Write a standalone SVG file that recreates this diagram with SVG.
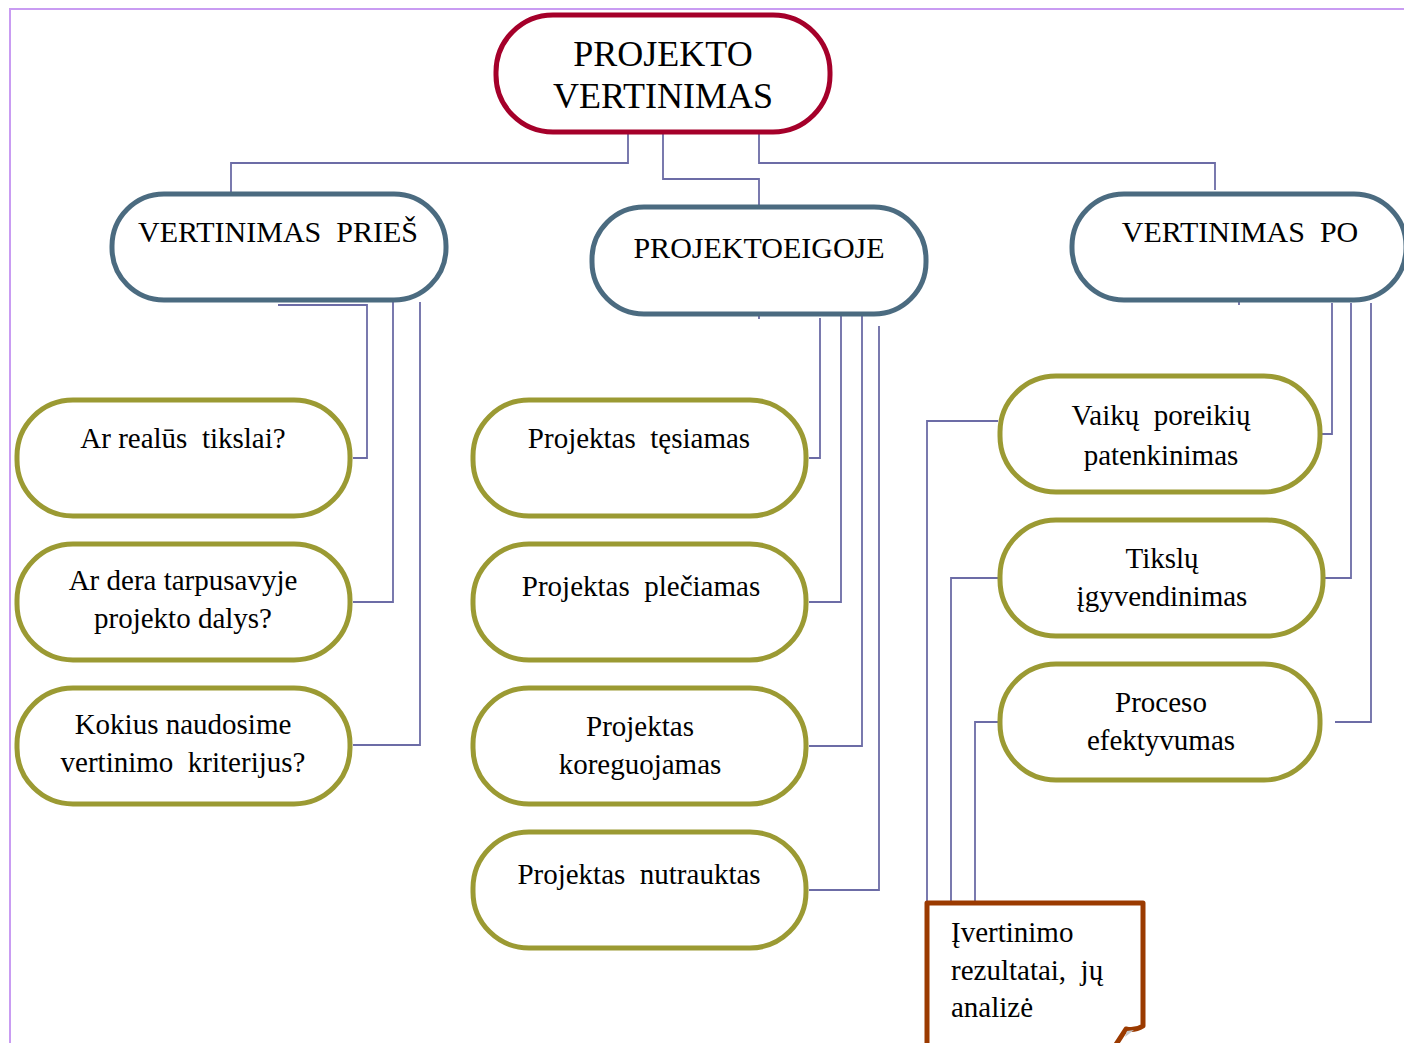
<svg xmlns="http://www.w3.org/2000/svg" width="1404" height="1043" viewBox="0 0 1404 1043">
<style>
.bg{fill:#ffffff}
.frame{fill:none;stroke:#c99cf2;stroke-width:2}
.c{fill:none;stroke:#6c6ca6;stroke-width:1.8}
.top{fill:#fff;stroke:#a5002a;stroke-width:5}
.mid{fill:#fff;stroke:#4b6b80;stroke-width:5}
.leaf{fill:#fff;stroke:#9b9a33;stroke-width:5}
.note{fill:#fff;stroke:#9b3a00;stroke-width:5;stroke-linejoin:round}
text{font-family:"Liberation Serif","Times New Roman",serif;fill:#000;text-anchor:middle}
.t1{font-size:36px}
.t2{font-size:30px}
.t3{font-size:29px}
.tl{text-anchor:start}
</style>
<rect class="bg" x="0" y="0" width="1404" height="1043"/>
<path class="frame" d="M10,1043 L10,9 L1404,9"/>

<g id="connectors">
  <path class="c" d="M628,134 L628,163 L231,163 L231,192"/>
  <path class="c" d="M663,134 L663,179 L759,179 L759,205"/>
  <path class="c" d="M759,134 L759,163 L1215,163 L1215,190"/>
  <path class="c" d="M278,305 L367,305 L367,458 L353,458"/>
  <path class="c" d="M393,302 L393,602 L353,602"/>
  <path class="c" d="M420,302 L420,745 L353,745"/>
  <path class="c" d="M820,318 L820,458 L809,458"/>
  <path class="c" d="M841,302 L841,602 L809,602"/>
  <path class="c" d="M862,302 L862,746 L809,746"/>
  <path class="c" d="M879,326 L879,890 L809,890"/>
  <path class="c" d="M759,316 L759,319"/>
  <path class="c" d="M1239,302 L1239,305"/>
  <path class="c" d="M1332,303 L1332,434 L1322,434"/>
  <path class="c" d="M1351,303 L1351,578 L1325,578"/>
  <path class="c" d="M1371,303 L1371,722 L1335,722"/>
  <path class="c" d="M998,421 L927,421 L927,902"/>
  <path class="c" d="M998,578 L951,578 L951,902"/>
  <path class="c" d="M998,722 L975,722 L975,902"/>
</g>

<g id="n-root">
  <rect class="top" x="496" y="15" width="334" height="117" rx="57"/>
  <text class="t1" x="663" y="66">PROJEKTO</text>
  <text class="t1" x="663" y="108">VERTINIMAS</text>
</g>

<g id="n-pries">
  <rect class="mid" x="112" y="194" width="334" height="106" rx="52"/>
  <text class="t2" x="278" y="242" xml:space="preserve">VERTINIMAS  PRIEŠ</text>
</g>
<g id="n-eigoje">
  <rect class="mid" x="592" y="207" width="334" height="107" rx="52"/>
  <text class="t2" x="759" y="258">PROJEKTOEIGOJE</text>
</g>
<g id="n-po">
  <rect class="mid" x="1072" y="194" width="334" height="106" rx="52"/>
  <text class="t2" x="1240" y="242" xml:space="preserve">VERTINIMAS  PO</text>
</g>

<g id="n-l1">
  <rect class="leaf" x="17" y="400" width="333" height="116" rx="56"/>
  <text class="t3" x="183" y="448" xml:space="preserve">Ar realūs  tikslai?</text>
</g>
<g id="n-l2">
  <rect class="leaf" x="17" y="544" width="333" height="116" rx="56"/>
  <text class="t3" x="183" y="590">Ar dera tarpusavyje</text>
  <text class="t3" x="183" y="628">projekto dalys?</text>
</g>
<g id="n-l3">
  <rect class="leaf" x="17" y="688" width="333" height="116" rx="56"/>
  <text class="t3" x="183" y="734">Kokius naudosime</text>
  <text class="t3" x="183" y="772" xml:space="preserve">vertinimo  kriterijus?</text>
</g>

<g id="n-m1">
  <rect class="leaf" x="473" y="400" width="333" height="116" rx="56"/>
  <text class="t3" x="639" y="448" xml:space="preserve">Projektas  tęsiamas</text>
</g>
<g id="n-m2">
  <rect class="leaf" x="473" y="544" width="333" height="116" rx="56"/>
  <text class="t3" x="641" y="596" xml:space="preserve">Projektas  plečiamas</text>
</g>
<g id="n-m3">
  <rect class="leaf" x="473" y="688" width="333" height="116" rx="56"/>
  <text class="t3" x="640" y="736">Projektas</text>
  <text class="t3" x="640" y="774">koreguojamas</text>
</g>
<g id="n-m4">
  <rect class="leaf" x="473" y="832" width="333" height="116" rx="56"/>
  <text class="t3" x="639" y="884" xml:space="preserve">Projektas  nutrauktas</text>
</g>

<g id="n-r1">
  <rect class="leaf" x="1000" y="376" width="320" height="116" rx="56"/>
  <text class="t3" x="1161" y="425" xml:space="preserve">Vaikų  poreikių</text>
  <text class="t3" x="1161" y="465">patenkinimas</text>
</g>
<g id="n-r2">
  <rect class="leaf" x="1000" y="520" width="323" height="116" rx="56"/>
  <text class="t3" x="1162" y="568">Tikslų</text>
  <text class="t3" x="1162" y="606">įgyvendinimas</text>
</g>
<g id="n-r3">
  <rect class="leaf" x="1000" y="664" width="320" height="116" rx="56"/>
  <text class="t3" x="1161" y="712">Proceso</text>
  <text class="t3" x="1161" y="750">efektyvumas</text>
</g>

<g id="n-result">
  <path class="note" d="M927,1046 L927,903 L1143,903 L1143,1026 Q1135,1031 1126,1029 L1115,1046"/>
  <path d="M1127,1031 L1134,1030 L1125,1037 Z" fill="#c8c8c8"/>
  <text class="t3 tl" x="951" y="942">Įvertinimo</text>
  <text class="t3 tl" x="951" y="980" xml:space="preserve">rezultatai,  jų</text>
  <text class="t3 tl" x="951" y="1017">analizė</text>
</g>
</svg>
